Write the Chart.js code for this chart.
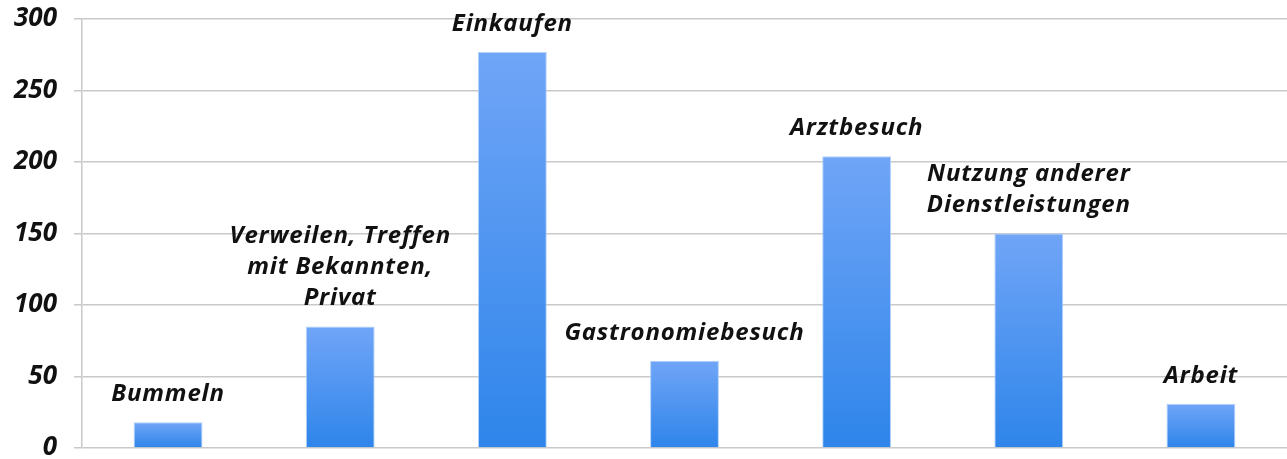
<!DOCTYPE html>
<html>
<head>
<meta charset="utf-8">
<script src="https://cdn.jsdelivr.net/npm/chart.js@4/dist/chart.umd.min.js"></script>
<style>
  html, body { margin: 0; padding: 0; background: #ffffff; }
  #wrap { width: 1287px; height: 459px; position: relative; }
</style>
</head>
<body>
<div id="wrap"><canvas id="c"></canvas></div>
<script>
const categories = [
  ['Bummeln'],
  ['Verweilen, Treffen', 'mit Bekannten,', 'Privat'],
  ['Einkaufen'],
  ['Gastronomiebesuch'],
  ['Arztbesuch'],
  ['Nutzung anderer', 'Dienstleistungen'],
  ['Arbeit']
];
const values = [18, 85, 277, 61, 204, 150, 31];
const yMin = 0, yMax = 300, yStep = 50;

const labelPlugin = {
  id: 'barLabels',
  afterDatasetsDraw(chart) {
    const ctx = chart.ctx;
    const meta = chart.getDatasetMeta(0);
    ctx.save();
    ctx.font = 'italic bold 24px "Open Sans"';
    if ('letterSpacing' in ctx) ctx.letterSpacing = '0.8px';
    ctx.fillStyle = '#111111';
    ctx.textAlign = 'center';
    ctx.textBaseline = 'middle';
    meta.data.forEach((el, i) => {
      const lines = chart.data.labels[i];
      const n = lines.length;
      lines.forEach((line, j) => {
        const y = el.y - 28 - (n - 1 - j) * 31;
        ctx.fillText(line, el.x, y);
      });
    });
    ctx.restore();
  }
};

function barGradient(context) {
  const chart = context.chart;
  const { chartArea, scales } = chart;
  if (!chartArea || !scales.y) return '#4a94f0';
  const top = scales.y.getPixelForValue(context.raw);
  const bottom = scales.y.getPixelForValue(0);
  const g = chart.ctx.createLinearGradient(0, top, 0, bottom);
  g.addColorStop(0, '#70a5f7');
  g.addColorStop(1, '#2e85ea');
  return g;
}

new Chart(document.getElementById('c'), {
  type: 'bar',
  data: {
    labels: categories,
    datasets: [{
      data: values,
      backgroundColor: barGradient,
      borderColor: 'rgba(170,205,250,0.9)',
      borderWidth: 1,
      categoryPercentage: 1.0,
      barPercentage: 0.4
    }]
  },
  plugins: [labelPlugin],
  options: {
    responsive: true,
    maintainAspectRatio: false,
    animation: false,
    layout: { padding: { top: 19, bottom: 11, left: 0, right: 0 } },
    plugins: { legend: { display: false }, tooltip: { enabled: false } },
    scales: {
      x: { display: false },
      y: {
        min: yMin, max: yMax,
        ticks: {
          stepSize: yStep,
          color: '#111111',
          padding: 17,
          font: { family: '"Open Sans"', size: 26, weight: 'bold', style: 'italic' }
        },
        grid: { color: '#c9c9c9', lineWidth: 1.5, tickLength: 8 },
        border: { color: '#c9c9c9', width: 1.5 },
        afterFit(scale) {
          scale.width = 82;
          scale.paddingTop = 0;
          scale.paddingBottom = 0;
        }
      }
    }
  }
});
</script>
</body>
</html>
